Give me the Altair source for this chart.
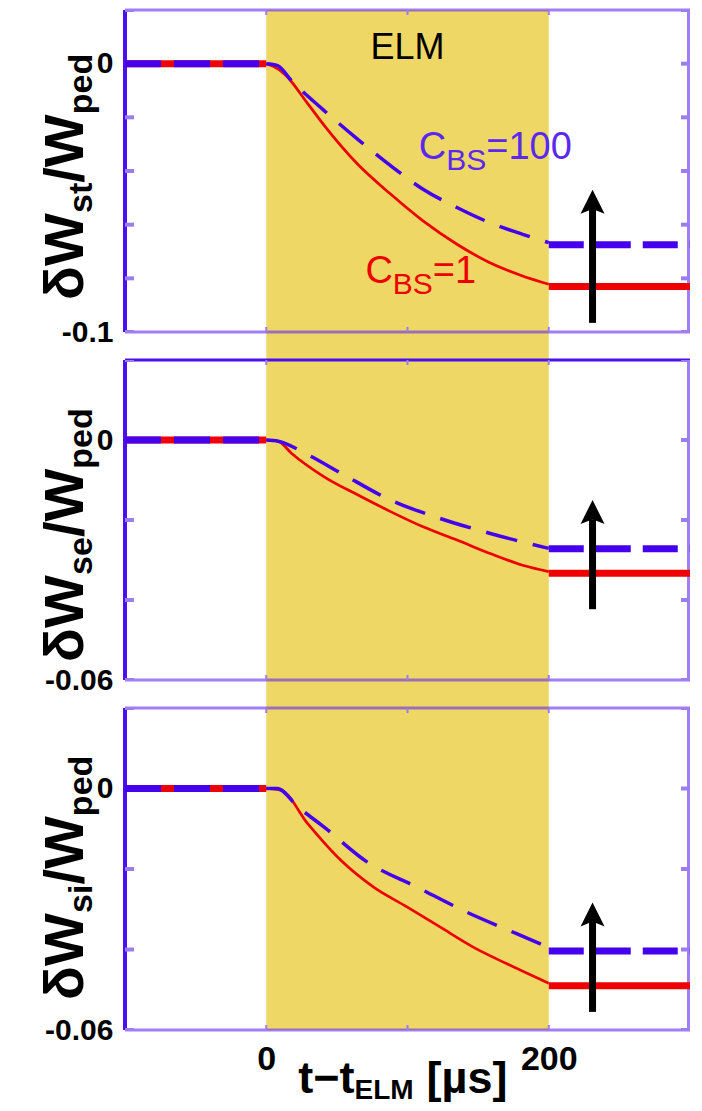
import altair as alt
import pandas as pd

FONT = "Liberation Sans"
W = 565
HEIGHTS = [322, 320, 322]
GAP = 28

# ---------------- data ----------------
X_DOMAIN = [-100, 300]
X_TICKS = [0, 100, 200]
X_LABELS = [0, 200]
ELM_WINDOW = [0, 200]

Y_DOMAINS = [[-0.1, 0.02], [-0.06, 0.02], [-0.06, 0.02]]
Y_TICKS = [[-0.1, -0.08, -0.06, -0.04, -0.02, 0.0, 0.02],
           [-0.06, -0.04, -0.02, 0.0, 0.02],
           [-0.06, -0.04, -0.02, 0.0, 0.02]]
Y_LABELS = [[-0.1, 0.0], [-0.06, 0.0], [-0.06, 0.0]]
Y_SUBS = ["st", "se", "si"]

PRE_T = [-100, 0]
PRE_V = [0, 0]
POST_T = [200, 300]

RED_T = [
    [0, 5, 13, 29.5, 41, 64.6, 88, 111, 135, 158, 181.5, 200],
    [0, 8.4, 17.8, 41, 64.6, 88, 111, 135, 158, 181.5, 200],
    [0, 10.8, 29.5, 53, 76, 99.6, 123, 146.5, 170, 200],
]
RED_V = [
    [0, -0.001, -0.0039, -0.015, -0.023, -0.0374, -0.0486, -0.0586, -0.0673, -0.0741, -0.0791, -0.0822],
    [0, -0.0003, -0.0033, -0.0092, -0.0137, -0.0179, -0.0217, -0.025, -0.0283, -0.0313, -0.0329],
    [0, -0.0005, -0.0088, -0.0179, -0.0245, -0.0294, -0.0344, -0.0394, -0.0435, -0.0484],
]
RED_FINAL = [-0.083, -0.0333, -0.049]

BLUE_T = [
    [0, 8, 17.8, 41, 64.6, 88, 111, 135, 158, 181.5, 200],
    [0, 8.4, 29.5, 53, 88, 123, 158, 200],
    [0, 7.7, 22.5, 41, 71.6, 106.7, 141.8, 176.8, 200],
]
BLUE_V = [
    [0, -0.0007, -0.0063, -0.0175, -0.0281, -0.038, -0.0468, -0.0536, -0.0592, -0.0636, -0.0667],
    [0, -0.0003, -0.0037, -0.0083, -0.015, -0.0196, -0.0233, -0.0271],
    [0, 0, -0.0046, -0.0096, -0.0183, -0.0245, -0.0307, -0.036, -0.0395],
]
BLUE_FINAL = [-0.0675, -0.0272, -0.0404]

ARROW_T = 231
ARROW_TIP = [-0.047, -0.015, -0.0283]
ARROW_NOTCH = [-0.054, -0.0198, -0.033]
ARROW_TAIL = [-0.0966, -0.0423, -0.0555]

ELM_LABEL = ("ELM", 100, 0.0019)
CBS100_POS = (108, -0.0354)
CBS1_POS = (70.2, -0.0817)
TITLE_Y = [290, 302, 292]

# ---------------- styles ----------------
YELLOW = "#EED764"
RED = "#EE0000"
BLUE = "#4400EE"
BLUE_TXT = "#5A28EE"
AXIS_BLUE = "#4A10F0"
FRAME = "#6428F0"
TICK = "#9B7DF0"
HEAD_PATH = "M0,0 L0.5,1 L0,0.8 L-0.5,1 Z"

BOLD_W = {"δ": 611, "W": 944, "s": 556, "t": 333, "e": 556, "i": 278, "/": 278,
          "p": 611, "d": 611, "E": 667, "L": 611, "M": 833, "−": 584, " ": 278,
          "[": 333, "]": 333, "µ": 611}
REG_W = {"C": 722, "B": 667, "S": 667, "=": 584, "1": 556, "0": 556}


def tw(s, size, table):
    return sum(table.get(c, 556) for c in s) / 1000.0 * size


dummy = pd.DataFrame({"d": [0]})


def build_panel(i, show_x):
    H = HEIGHTS[i]
    xs = alt.Scale(domain=X_DOMAIN, nice=False, zero=False)
    ys = alt.Scale(domain=Y_DOMAINS[i], nice=False, zero=False)
    if show_x:
        xax = alt.Axis(values=X_LABELS, domain=False, ticks=False, grid=False, title=None,
                       labelFont=FONT, labelFontSize=34, labelFontWeight="bold",
                       labelColor="black", labelPadding=12, labelExpr="'' + datum.value")
    else:
        xax = None
    yax = alt.Axis(values=Y_LABELS[i], domain=False, ticks=False, grid=False, title=None,
                   labelFont=FONT, labelFontSize=30, labelFontWeight="bold",
                   labelColor="black", labelPadding=12, labelExpr="'' + datum.value")

    def X(f="t"):
        return alt.X(f"{f}:Q", scale=xs, axis=xax)

    def Y(f="v"):
        return alt.Y(f"{f}:Q", scale=ys, axis=yax)

    layers = []
    top = 0 if i == 0 else -GAP / 2
    bot = H if i == 2 else H + GAP / 2
    layers.append(
        alt.Chart(pd.DataFrame({"t": [ELM_WINDOW[0]], "t2": [ELM_WINDOW[1]]}))
        .mark_rect(color=YELLOW, clip=False)
        .encode(x=X("t"), x2="t2", y=alt.value(top), y2=alt.value(bot))
    )

    def hrule(y, color, width, opacity=1.0):
        return alt.Chart(dummy).mark_rule(color=color, strokeWidth=width, opacity=opacity).encode(
            x=alt.value(0), x2=alt.value(W), y=alt.value(y))

    def vrule(x, color, width, opacity=1.0, clip=False):
        return alt.Chart(dummy).mark_rule(color=color, strokeWidth=width, opacity=opacity,
                                          clip=clip).encode(
            x=alt.value(x), y=alt.value(0), y2=alt.value(H))

    if i == 1:
        layers.append(hrule(0, AXIS_BLUE, 3))
    else:
        layers.append(hrule(0, FRAME, 3, 0.6))
    layers.append(hrule(H, FRAME, 3, 0.6))
    layers.append(vrule(W - 1.5, FRAME, 3, 0.6, clip=True))
    layers.append(vrule(0, AXIS_BLUE, 4))

    ytk = pd.DataFrame({"v": Y_TICKS[i]})
    layers.append(alt.Chart(ytk).mark_rule(color=TICK, strokeWidth=4, clip=True).encode(
        y=Y(), x=alt.value(0), x2=alt.value(9)))
    layers.append(alt.Chart(ytk).mark_rule(color=TICK, strokeWidth=4, clip=True).encode(
        y=Y(), x=alt.value(W - 9), x2=alt.value(W)))
    xtk = pd.DataFrame({"t": X_TICKS})
    layers.append(alt.Chart(xtk).mark_rule(color=TICK, strokeWidth=2, clip=True).encode(
        x=X(), y=alt.value(0), y2=alt.value(5)))
    layers.append(alt.Chart(xtk).mark_rule(color=TICK, strokeWidth=2, clip=True).encode(
        x=X(), y=alt.value(H - 5), y2=alt.value(H)))

    def seg(ts, vs, color, width, dash=None):
        m = dict(color=color, strokeWidth=width, interpolate="monotone", clip=True,
                 strokeJoin="round")
        if dash:
            m["strokeDash"] = dash
        return alt.Chart(pd.DataFrame({"t": ts, "v": vs})).mark_line(**m).encode(x=X(), y=Y())

    layers.append(seg(PRE_T, PRE_V, RED, 7))
    layers.append(seg(RED_T[i], RED_V[i], RED, 2.7))
    layers.append(seg(POST_T, [RED_FINAL[i]] * 2, RED, 7))
    layers.append(seg(PRE_T, PRE_V, BLUE, 7, [36, 13]))
    layers.append(seg(BLUE_T[i], BLUE_V[i], BLUE, 3.5, [32, 16]))
    layers.append(seg(POST_T, [BLUE_FINAL[i]] * 2, BLUE, 7, [35, 12]))

    arr = pd.DataFrame({"t": [ARROW_T], "v": [ARROW_TAIL[i]], "v2": [ARROW_NOTCH[i]],
                        "tip": [ARROW_TIP[i]]})
    layers.append(alt.Chart(arr).mark_rule(color="black", strokeWidth=7).encode(
        x=X(), y=Y(), y2="v2"))
    layers.append(alt.Chart(arr).mark_point(shape=HEAD_PATH, size=2304, filled=True,
                                            color="black", opacity=1, strokeWidth=0).encode(
        x=X(), y=Y("tip")))

    # y-axis title (rotated, with subscripts)
    pieces = [("δW", 56, 0), (Y_SUBS[i], 34, 9), ("/W", 56, 0), ("ped", 34, 9)]
    off = 0.0
    for txt, size, dy in pieces:
        layers.append(alt.Chart(dummy).mark_text(
            text=txt, font=FONT, fontSize=size, fontWeight="bold", color="black",
            angle=270, align="left", baseline="alphabetic", dx=off, dy=dy, clip=False
        ).encode(x=alt.value(-42), y=alt.value(TITLE_Y[i])))
        off += tw(txt, size, BOLD_W)

    if i == 0:
        layers.append(alt.Chart(pd.DataFrame({"t": [ELM_LABEL[1]], "v": [ELM_LABEL[2]]})).mark_text(
            text=ELM_LABEL[0], font=FONT, fontSize=36, color="black", align="center",
            baseline="alphabetic").encode(x=X(), y=Y()))
        for (pt, val), col, num in [(CBS100_POS, BLUE_TXT, "=100"), (CBS1_POS, RED, "=1")]:
            d = pd.DataFrame({"t": [pt], "v": [val]})
            parts = [("C", 38, 0), ("BS", 30, 11), (num, 38, 0)]
            o = 0.0
            for txt, size, dy in parts:
                layers.append(alt.Chart(d).mark_text(
                    text=txt, font=FONT, fontSize=size, color=col, align="left",
                    baseline="alphabetic", dx=o, dy=dy, clip=False).encode(x=X(), y=Y()))
                o += tw(txt, size, REG_W)

    if show_x:
        d0 = pd.DataFrame({"t": [0]})
        parts = [("t−t", 45, 0, 0), ("ELM", 28, 6, 0), ("[µs]", 45, 0, 13)]
        o = 32.0
        for txt, size, dy, gap in parts:
            o += gap
            layers.append(alt.Chart(d0).mark_text(
                text=txt, font=FONT, fontSize=size, fontWeight="bold", color="black",
                align="left", baseline="alphabetic", dx=o, dy=dy, clip=False
            ).encode(x=X(), y=alt.value(H + 63)))
            o += tw(txt, size, BOLD_W)

    return alt.layer(*layers).properties(width=W, height=H)


panels = [build_panel(0, False), build_panel(1, False), build_panel(2, True)]

chart = (
    alt.VConcatChart(vconcat=panels, spacing=GAP, bounds="flush")
    .properties(padding={"left": 29, "top": 0, "right": 0, "bottom": 0}, background="white")
    .configure_view(stroke=None)
)

chart.save("out.html", embed_options={"renderer": "svg", "actions": False})
